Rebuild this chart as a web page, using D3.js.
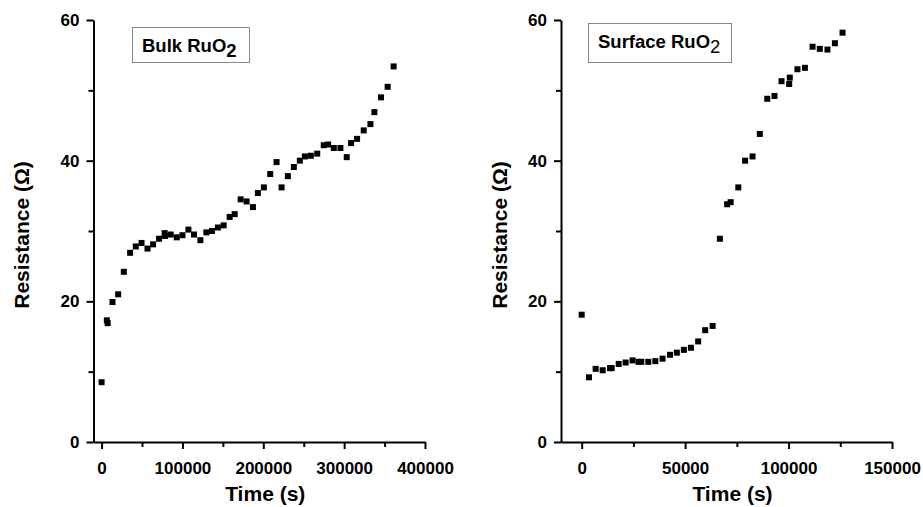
<!DOCTYPE html>
<html>
<head>
<meta charset="utf-8">
<script src="https://cdnjs.cloudflare.com/ajax/libs/d3/7.8.5/d3.min.js"></script>
<style>
  body { margin: 0; background: #fff; }
  text { font-family: Arial, "Liberation Sans", Helvetica, sans-serif; font-weight: bold; }
</style>
</head>
<body>
<div id="chart"></div>
<script>
// bulk RuO2 readings (time in s, resistance in ohm)
var bulkTime = [0, 6500, 7500, 13500, 20500, 27500, 35300, 42300, 49400, 56800, 63700, 71100, 78000, 78500,
  85500, 93000, 100000, 107400, 114300, 122200, 129600, 136500, 143900, 151000, 158400, 164600, 172000,
  179400, 187200, 193300, 200700, 208600, 216400, 222600, 230400, 237800, 245200, 251400, 258800, 266700,
  274800, 280200, 287200, 295400, 303200, 308600, 316000, 324200, 332500, 337400, 345600, 353800, 361200];
var bulkRes = [8.5, 17.3, 16.9, 19.9, 21.0, 24.2, 26.9, 27.8, 28.3, 27.5, 28.1, 28.9, 29.7, 29.3,
  29.5, 29.1, 29.4, 30.2, 29.5, 28.7, 29.8, 30.0, 30.5, 30.8, 32.0, 32.4, 34.5,
  34.2, 33.4, 35.4, 36.2, 38.1, 39.8, 36.2, 37.8, 39.1, 40.0, 40.6, 40.7, 41.0,
  42.2, 42.3, 41.8, 41.8, 40.5, 42.5, 43.1, 44.3, 45.2, 46.9, 49.0, 50.5, 53.4];

// surface RuO2 readings
var surfTime = [0, 3530, 6760, 10140, 13700, 14500, 17900, 21250, 24600, 27500, 28800, 32200, 35600, 39100,
  42700, 46000, 49400, 52800, 56300, 59700, 63300, 66800, 70300, 72000, 75700, 79000, 82600, 86100,
  89700, 93200, 96600, 100300, 100600, 104300, 107900, 111600, 115100, 118800, 122400, 126100];
var surfRes = [18.1, 9.2, 10.4, 10.2, 10.5, 10.5, 11.1, 11.3, 11.6, 11.4, 11.4, 11.4, 11.5, 11.85,
  12.4, 12.7, 13.1, 13.4, 14.3, 15.9, 16.5, 28.9, 33.8, 34.1, 36.2, 40.0, 40.6, 43.8,
  48.8, 49.2, 51.3, 50.9, 51.8, 53.0, 53.2, 56.2, 55.9, 55.8, 56.7, 58.2];

var bulkTicks = [0, 100000, 200000, 300000, 400000];
var bulkMinor = [50000, 150000, 250000, 350000];
var surfTicks = [0, 50000, 100000, 150000];
var surfMinor = [25000, 75000, 125000];
var resTicks = [0, 20, 40, 60];
var resMinor = [10, 30, 50];

var W = 923, H = 507;
var svg = d3.select("#chart").append("svg")
  .attr("width", W).attr("height", H)
  .style("background", "#fff");

function drawPanel(p) {
  var x = d3.scaleLinear().domain([-10000, p.xmax]).range([p.x0, p.x1]);
  var y = d3.scaleLinear().domain([0, 60]).range([442, 20]);

  var g = svg.append("g");

  // minor ticks first
  g.append("g").attr("transform", "translate(0,442)")
    .call(d3.axisBottom(x).tickValues(p.minor).tickSize(5).tickFormat(""))
    .call(function(a) { a.select(".domain").remove(); });
  g.append("g").attr("transform", "translate(" + p.x0 + ",0)")
    .call(d3.axisLeft(y).tickValues(resMinor).tickSize(5).tickFormat(""))
    .call(function(a) { a.select(".domain").remove(); });

  g.append("g").attr("transform", "translate(0,442)")
    .call(d3.axisBottom(x).tickValues(p.ticks).tickSize(7).tickSizeOuter(0).tickPadding(13).tickFormat(d3.format("d")));
  g.append("g").attr("transform", "translate(" + p.x0 + ",0)")
    .call(d3.axisLeft(y).tickValues(resTicks).tickSize(7).tickSizeOuter(0).tickPadding(7).tickFormat(d3.format("d")));

  g.selectAll(".tick line").attr("stroke", "#000").attr("stroke-width", 2);
  g.selectAll(".domain").attr("stroke", "#000").attr("stroke-width", 2);
  g.selectAll(".tick text").attr("fill", "#000").style("font-size", "17px").style("font-weight", "bold");

  // axis titles
  g.append("text")
    .attr("x", (p.x0 + p.x1) / 2 + 6).attr("y", 501)
    .attr("text-anchor", "middle").style("font-size", "21px")
    .text("Time (s)");
  g.append("text")
    .attr("transform", "translate(" + p.ytitle + ",235) rotate(-90)")
    .attr("text-anchor", "middle").style("font-size", "21px")
    .text("Resistance (\u03A9)");

  // points
  g.selectAll("rect.pt").data(p.time).enter().append("rect")
    .attr("class", "pt")
    .attr("x", function(d) { return x(d) - 3; })
    .attr("y", function(d, i) { return y(p.res[i]) - 3; })
    .attr("width", 6).attr("height", 6)
    .attr("fill", "#000");

  // label box
  g.append("rect")
    .attr("x", p.box[0] + 0.5).attr("y", p.box[1] + 0.5)
    .attr("width", p.box[2]).attr("height", p.box[3])
    .attr("fill", "#fff").attr("stroke", "#888").attr("stroke-width", 1);
  var t = g.append("text")
    .attr("x", p.box[0] + 10).attr("y", p.box[1] + 25)
    .style("font-size", "18.5px");
  t.append("tspan").text(p.label);
  t.append("tspan").attr("dy", 5)
    .style("font-weight", p.subBold ? "bold" : "normal").text("2");
}

drawPanel({
  x0: 93.5, x1: 425, xmax: 400000, ticks: bulkTicks, minor: bulkMinor,
  time: bulkTime, res: bulkRes, ytitle: 29,
  box: [132, 27, 117, 35], label: "Bulk RuO", subBold: true
});

drawPanel({
  x0: 561, x1: 892, xmax: 150000, ticks: surfTicks, minor: surfMinor,
  time: surfTime, res: surfRes, ytitle: 507,
  box: [588, 23, 143, 39], label: "Surface RuO", subBold: false
});
</script>
</body>
</html>
